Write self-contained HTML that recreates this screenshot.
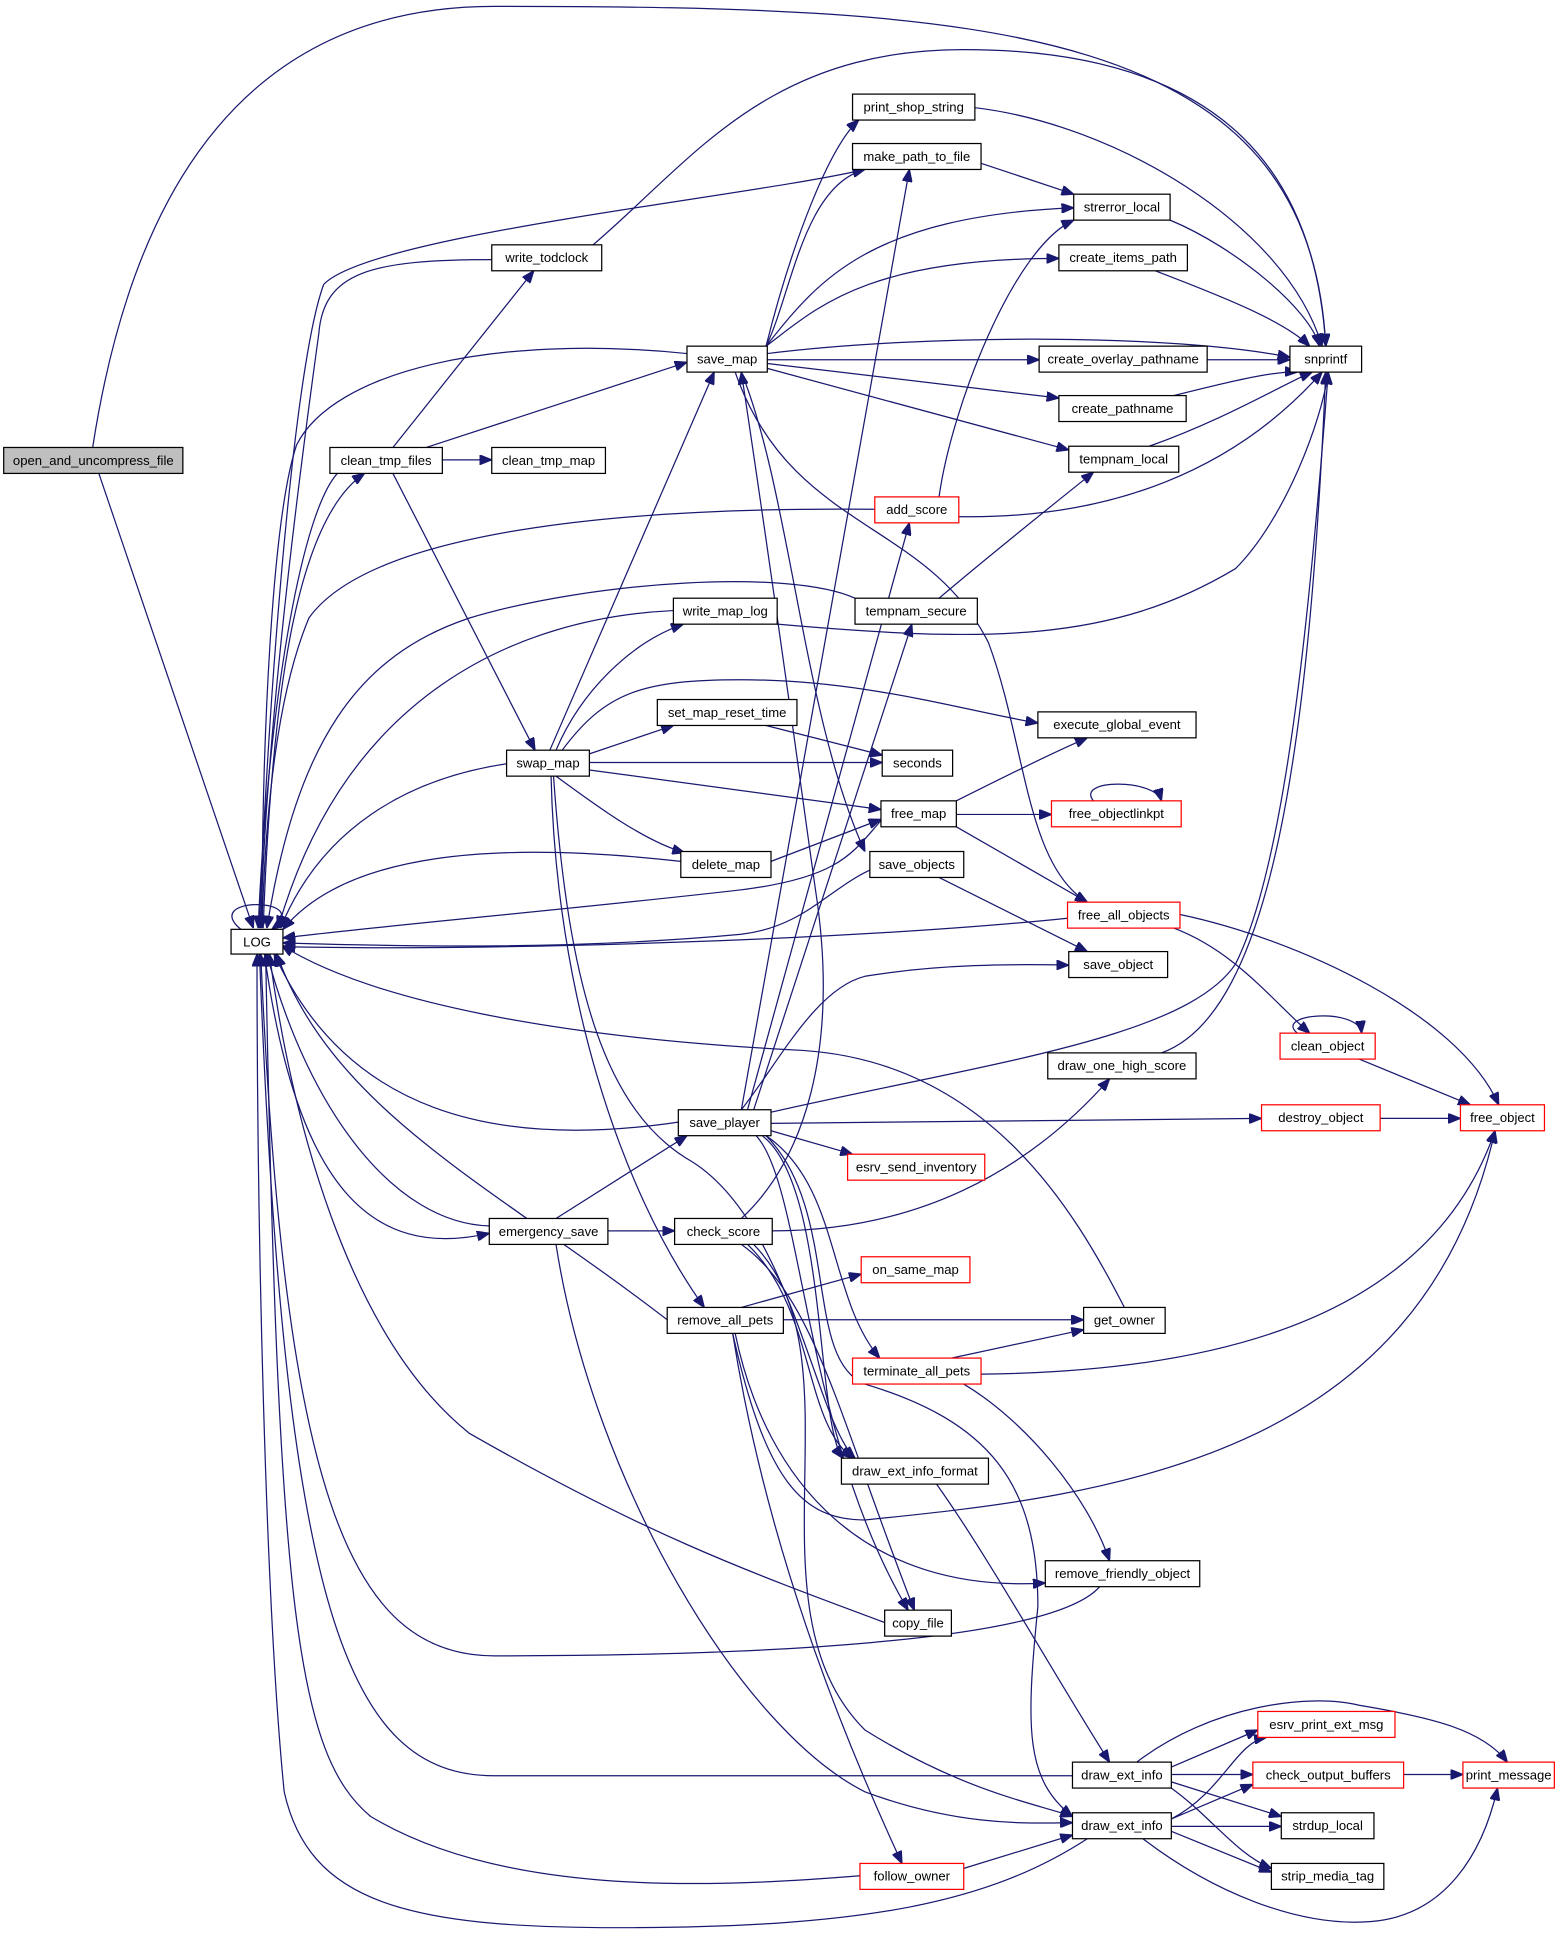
<!DOCTYPE html>
<html><head><meta charset="utf-8"><style>
html,body{margin:0;padding:0;background:#fff;}
svg{display:block;}
text{font-family:"Liberation Sans",Arial,sans-serif;font-size:10.6px;fill:#000;}
.e{fill:none;stroke:#191970;stroke-width:1;}
.n{fill:#fff;stroke:#000;stroke-width:1;}
.r{fill:#fff;stroke:#ff0000;stroke-width:1;}
</style></head><body>
<svg width="1563" height="1939" viewBox="0 0 1265 1569" xmlns="http://www.w3.org/2000/svg">
<defs><marker id="a" viewBox="0 0 10 8" refX="10" refY="4" markerWidth="10" markerHeight="8" markerUnits="userSpaceOnUse" orient="auto"><path d="M0,0L10,4L0,8z" fill="#191970" stroke="#191970"/></marker></defs>
<g class="e" marker-end="url(#a)">
<!-- open_and_uncompress_file -->
<path d="M80,383 L205,751"/>
<path d="M75,362 C100,200 170,5 400,5 C800,5 1060,20 1073,280"/>
<!-- LOG self -->
<path d="M195,752 C180,740 190,732 208,732 C226,732 236,740 220,752"/>
<!-- clean_tmp_files -->
<path d="M273,383 C240,420 215,600 209,751"/>
<path d="M213,751 C220,560 240,420 295,383"/>
<path d="M318,362 L432,219"/>
<path d="M358,372 L398,372"/>
<path d="M345,362 L556,293"/>
<path d="M318,383 L433,607"/>
<!-- write_todclock -->
<path d="M398,210 C300,210 262,220 258,270 C240,400 215,600 211,751"/>
<path d="M480,198 C560,130 620,40 780,40 C1000,40 1065,150 1073,280"/>
<!-- save_map -->
<path d="M620,280 C640,200 670,120 695,97"/>
<path d="M620,280 C640,240 650,150 700,137"/>
<path d="M620,280 C660,230 700,175 869,168"/>
<path d="M620,280 C660,250 700,209 857,209"/>
<path d="M621,286 C750,270 950,270 1044,289"/>
<path d="M621,291 L841,291"/>
<path d="M621,294 L857,322"/>
<path d="M621,298 L865,364"/>
<path d="M556,286 C400,270 270,300 240,360 C220,420 212,600 212,751"/>
<path d="M600,301 C640,400 650,580 700,689"/>
<path d="M595,301 C640,430 750,420 800,520 C830,600 830,700 880,730"/>
<!-- make_path_to_file -->
<path d="M700,137 C600,160 300,190 262,230 C236,300 215,600 210,751"/>
<path d="M794,132 L869,157"/>
<!-- to snprintf -->
<path d="M789,87 C900,100 1040,180 1070,280"/>
<path d="M947,178 C1000,200 1060,250 1068,280"/>
<path d="M935,219 C990,240 1040,260 1060,280"/>
<path d="M977,291 L1044,291"/>
<path d="M950,320 C990,310 1030,300 1050,301"/>
<path d="M930,361 C990,340 1040,310 1062,301"/>
<!-- add_score -->
<path d="M760,402 C770,330 820,200 869,178"/>
<path d="M776,418 C900,420 1000,380 1070,301"/>
<path d="M708,412 C500,410 300,430 250,500 C225,560 215,650 212,751"/>
<!-- tempnam_secure -->
<path d="M760,484 C800,450 850,410 885,382"/>
<path d="M692,484 C640,460 480,470 380,500 C290,530 240,600 216,751"/>
<!-- write_map_log -->
<path d="M629,505 C800,520 900,520 1000,460 C1040,420 1070,340 1075,301"/>
<path d="M545,494 C420,500 280,560 225,751"/>
<!-- swap_map -->
<path d="M450,607 C470,560 510,520 553,505"/>
<path d="M455,607 C490,560 520,550 600,550 C700,550 780,575 840,585"/>
<path d="M477,610 L545,587"/>
<path d="M477,617 L714,617"/>
<path d="M477,623 L713,655"/>
<path d="M450,628 C480,650 520,680 554,690"/>
<path d="M445,607 L578,301"/>
<path d="M410,618 C330,630 260,670 227,751"/>
<path d="M446,628 C450,800 500,960 570,1058"/>
<path d="M448,628 C460,800 490,900 560,940 C640,990 660,1150 692,1180"/>
<!-- set_map_reset_time -->
<path d="M620,587 L714,611"/>
<!-- delete_map -->
<path d="M624,697 L713,663"/>
<path d="M551,697 C400,680 280,690 229,752"/>
<!-- free_map -->
<path d="M774,648 C810,630 850,610 880,597"/>
<path d="M774,659 L851,659"/>
<path d="M774,669 L880,730"/>
<path d="M713,664 C690,690 680,710 600,720 C470,735 300,750 229,759"/>
<!-- free_objectlinkpt -->
<path d="M885,648 C870,630 935,630 940,648"/>
<!-- save_objects -->
<path d="M760,710 L880,770"/>
<path d="M704,704 C670,720 650,750 600,756 C450,770 300,765 229,763"/>
<!-- free_all_objects -->
<path d="M950,751 C1000,770 1030,810 1060,836"/>
<path d="M955,740 C1050,760 1180,820 1213,894"/>
<path d="M864,743 C700,760 400,770 229,766"/>
<!-- clean_object -->
<path d="M1050,836 C1030,820 1100,815 1102,836"/>
<path d="M1100,857 L1190,894"/>
<!-- draw_one_high_score -->
<path d="M940,852 C1030,820 1060,600 1073,301"/>
<!-- save_player -->
<path d="M600,898 L736,137"/>
<path d="M605,898 L736,423"/>
<path d="M610,898 L738,505"/>
<path d="M600,898 C630,860 660,800 700,790 C760,780 820,780 865,781"/>
<path d="M624,900 C800,860 960,840 1000,780 C1040,700 1060,500 1075,301"/>
<path d="M624,909 L1021,905"/>
<path d="M624,915 L690,934"/>
<path d="M620,919 C680,960 670,1050 712,1099"/>
<path d="M617,919 C670,960 660,1150 682,1180"/>
<path d="M612,919 C650,960 650,1160 735,1303"/>
<path d="M549,908 C400,930 280,900 222,772"/>
<path d="M620,919 C680,980 650,1100 700,1120 C800,1150 840,1200 840,1300 C830,1400 830,1440 868,1470"/>
<!-- destroy_object -->
<path d="M1117,905 L1182,905"/>
<!-- emergency_save -->
<path d="M450,986 L556,919"/>
<path d="M492,996 L546,996"/>
<path d="M396,992 C320,990 250,900 216,772"/>
<path d="M214,772 C240,960 300,1020 396,998"/>
<path d="M450,1007 C480,1200 600,1400 700,1450 C780,1480 840,1475 868,1475"/>
<!-- check_score -->
<path d="M625,996 C740,996 830,950 898,873"/>
<path d="M600,986 C650,940 680,850 660,720 C650,650 630,500 600,301"/>
<path d="M605,1007 C660,1060 650,1150 690,1180"/>
<path d="M600,1007 C660,1050 680,1150 740,1303"/>
<path d="M610,1007 C700,1100 600,1300 700,1400 C780,1450 840,1460 868,1470"/>
<!-- remove_all_pets -->
<path d="M600,1058 L697,1031"/>
<path d="M634,1068 L877,1068"/>
<path d="M593,1079 C620,1250 680,1400 730,1508"/>
<path d="M593,1079 C620,1200 650,1230 700,1230 C900,1210 1150,1180 1210,915"/>
<path d="M595,1079 C620,1200 700,1290 846,1281"/>
<path d="M540,1068 C400,960 270,900 224,772"/>
<!-- get_owner -->
<path d="M910,1058 C870,980 800,860 650,850 C450,840 300,810 228,765"/>
<!-- terminate_all_pets -->
<path d="M770,1099 L877,1076"/>
<path d="M794,1112 C1000,1110 1160,1060 1210,915"/>
<path d="M780,1120 C830,1150 880,1210 898,1263"/>
<!-- draw_ext_info_format -->
<path d="M758,1201 C800,1260 850,1350 898,1426"/>
<!-- remove_friendly_object -->
<path d="M890,1284 C850,1330 600,1340 400,1340 C280,1340 230,1200 211,772"/>
<!-- copy_file -->
<path d="M716,1313 C600,1270 520,1240 380,1160 C280,1080 235,900 218,772"/>
<!-- draw_ext_info 1 -->
<path d="M920,1426 C980,1380 1060,1370 1100,1380 C1160,1390 1200,1400 1220,1426"/>
<path d="M948,1430 L1018,1400"/>
<path d="M948,1436 L1014,1436"/>
<path d="M948,1442 L1037,1470"/>
<path d="M948,1447 C980,1470 1000,1500 1029,1512"/>
<path d="M868,1437 L400,1437 C280,1437 230,1300 210,772"/>
<!-- draw_ext_info 2 -->
<path d="M948,1472 C990,1450 1000,1410 1025,1406"/>
<path d="M948,1472 L1014,1444"/>
<path d="M948,1478 L1037,1478"/>
<path d="M948,1482 L1029,1515"/>
<path d="M925,1488 C980,1530 1050,1560 1110,1555 C1170,1550 1200,1500 1212,1447"/>
<path d="M880,1488 C800,1540 700,1560 500,1560 C330,1560 250,1540 230,1450 C215,1300 208,1000 208,772"/>
<!-- check_output_buffers -->
<path d="M1136,1436 L1184,1436"/>
<!-- follow_owner -->
<path d="M780,1512 L868,1485"/>
<path d="M696,1518 C550,1530 400,1530 300,1470 C240,1420 225,1300 215,772"/>
</g>
<g>
<rect class="n" x="3" y="362" width="145" height="21" fill="#bfbfbf" style="fill:#bfbfbf"/><text x="75.5" y="376" text-anchor="middle">open_and_uncompress_file</text>
<rect class="n" x="187" y="752" width="42" height="20"/><text x="208" y="766" text-anchor="middle">LOG</text>
<rect class="n" x="398" y="198" width="89" height="21"/><text x="442.5" y="212" text-anchor="middle">write_todclock</text>
<rect class="n" x="267" y="362" width="91" height="21"/><text x="312.5" y="376" text-anchor="middle">clean_tmp_files</text>
<rect class="n" x="398" y="362" width="92" height="21"/><text x="444" y="376" text-anchor="middle">clean_tmp_map</text>
<rect class="n" x="690" y="76" width="99" height="21"/><text x="739.5" y="90" text-anchor="middle">print_shop_string</text>
<rect class="n" x="690" y="116" width="104" height="21"/><text x="742" y="130" text-anchor="middle">make_path_to_file</text>
<rect class="n" x="869" y="157" width="78" height="21"/><text x="908" y="171" text-anchor="middle">strerror_local</text>
<rect class="n" x="857" y="198" width="104" height="21"/><text x="909" y="212" text-anchor="middle">create_items_path</text>
<rect class="n" x="1044" y="280" width="58" height="21"/><text x="1073" y="294" text-anchor="middle">snprintf</text>
<rect class="n" x="556" y="280" width="65" height="21"/><text x="588.5" y="294" text-anchor="middle">save_map</text>
<rect class="n" x="841" y="280" width="136" height="21"/><text x="909" y="294" text-anchor="middle">create_overlay_pathname</text>
<rect class="n" x="857" y="320" width="103" height="21"/><text x="908.5" y="334" text-anchor="middle">create_pathname</text>
<rect class="n" x="865" y="361" width="89" height="21"/><text x="909.5" y="375" text-anchor="middle">tempnam_local</text>
<rect class="r" x="708" y="402" width="68" height="21"/><text x="742" y="416" text-anchor="middle">add_score</text>
<rect class="n" x="692" y="484" width="99" height="21"/><text x="741.5" y="498" text-anchor="middle">tempnam_secure</text>
<rect class="n" x="545" y="484" width="84" height="21"/><text x="587" y="498" text-anchor="middle">write_map_log</text>
<rect class="n" x="532" y="566" width="113" height="21"/><text x="588.5" y="580" text-anchor="middle">set_map_reset_time</text>
<rect class="n" x="840" y="576" width="128" height="21"/><text x="904" y="590" text-anchor="middle">execute_global_event</text>
<rect class="n" x="410" y="607" width="67" height="21"/><text x="443.5" y="621" text-anchor="middle">swap_map</text>
<rect class="n" x="714" y="607" width="57" height="21"/><text x="742.5" y="621" text-anchor="middle">seconds</text>
<rect class="n" x="713" y="648" width="61" height="21"/><text x="743.5" y="662" text-anchor="middle">free_map</text>
<rect class="r" x="851" y="648" width="105" height="21"/><text x="903.5" y="662" text-anchor="middle">free_objectlinkpt</text>
<rect class="n" x="551" y="689" width="73" height="21"/><text x="587.5" y="703" text-anchor="middle">delete_map</text>
<rect class="n" x="704" y="689" width="76" height="21"/><text x="742" y="703" text-anchor="middle">save_objects</text>
<rect class="r" x="864" y="730" width="91" height="21"/><text x="909.5" y="744" text-anchor="middle">free_all_objects</text>
<rect class="n" x="865" y="770" width="80" height="21"/><text x="905" y="784" text-anchor="middle">save_object</text>
<rect class="r" x="1036" y="836" width="77" height="21"/><text x="1074.5" y="850" text-anchor="middle">clean_object</text>
<rect class="n" x="848" y="852" width="120" height="21"/><text x="908" y="866" text-anchor="middle">draw_one_high_score</text>
<rect class="n" x="549" y="898" width="75" height="21"/><text x="586.5" y="912" text-anchor="middle">save_player</text>
<rect class="r" x="1021" y="894" width="96" height="21"/><text x="1069" y="908" text-anchor="middle">destroy_object</text>
<rect class="r" x="1182" y="894" width="68" height="21"/><text x="1216" y="908" text-anchor="middle">free_object</text>
<rect class="r" x="686" y="934" width="111" height="21"/><text x="741.5" y="948" text-anchor="middle">esrv_send_inventory</text>
<rect class="n" x="396" y="986" width="96" height="21"/><text x="444" y="1000" text-anchor="middle">emergency_save</text>
<rect class="n" x="546" y="986" width="79" height="21"/><text x="585.5" y="1000" text-anchor="middle">check_score</text>
<rect class="r" x="697" y="1017" width="88" height="21"/><text x="741" y="1031" text-anchor="middle">on_same_map</text>
<rect class="n" x="540" y="1058" width="94" height="21"/><text x="587" y="1072" text-anchor="middle">remove_all_pets</text>
<rect class="n" x="877" y="1058" width="66" height="21"/><text x="910" y="1072" text-anchor="middle">get_owner</text>
<rect class="r" x="690" y="1099" width="104" height="21"/><text x="742" y="1113" text-anchor="middle">terminate_all_pets</text>
<rect class="n" x="681" y="1180" width="119" height="21"/><text x="740.5" y="1194" text-anchor="middle">draw_ext_info_format</text>
<rect class="n" x="846" y="1263" width="125" height="21"/><text x="908.5" y="1277" text-anchor="middle">remove_friendly_object</text>
<rect class="n" x="716" y="1303" width="54" height="21"/><text x="743" y="1317" text-anchor="middle">copy_file</text>
<rect class="r" x="1018" y="1385" width="111" height="21"/><text x="1073.5" y="1399" text-anchor="middle">esrv_print_ext_msg</text>
<rect class="n" x="868" y="1426" width="80" height="21"/><text x="908" y="1440" text-anchor="middle">draw_ext_info</text>
<rect class="r" x="1014" y="1426" width="122" height="21"/><text x="1075" y="1440" text-anchor="middle">check_output_buffers</text>
<rect class="r" x="1184" y="1426" width="74" height="21"/><text x="1221" y="1440" text-anchor="middle">print_message</text>
<rect class="n" x="868" y="1467" width="80" height="21"/><text x="908" y="1481" text-anchor="middle">draw_ext_info</text>
<rect class="n" x="1037" y="1467" width="75" height="21"/><text x="1074.5" y="1481" text-anchor="middle">strdup_local</text>
<rect class="n" x="1029" y="1508" width="91" height="21"/><text x="1074.5" y="1522" text-anchor="middle">strip_media_tag</text>
<rect class="r" x="696" y="1508" width="84" height="21"/><text x="738" y="1522" text-anchor="middle">follow_owner</text>
</g>
</svg>
</body></html>
